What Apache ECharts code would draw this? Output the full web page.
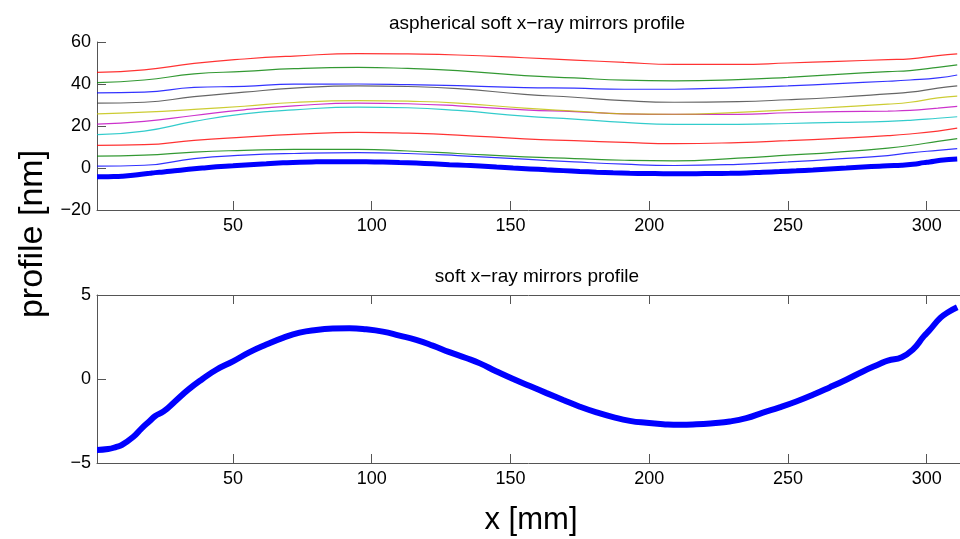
<!DOCTYPE html>
<html>
<head>
<meta charset="utf-8">
<script src="https://cdn.jsdelivr.net/npm/echarts@6/dist/echarts.min.js"></script>
<style>
html,body{margin:0;padding:0;background:#fff;}
#chart{width:960px;height:539px;}
</style>
</head>
<body>
<div id="chart"></div>
<script>
// ---- data ----
const xTicks = [50, 100, 150, 200, 250, 300];

// bottom profile (nm) vs x (mm)
const profX = [1,5,8,10,14,17,20,22,25,29,34,39,44,50,56,62,68,74,80,86,92,98,104,110,116,122,128,134,139,145,151,157,163,169,175,181,187,193,199,205,211,217,223,229,235,241,247,253,259,265,271,277,283,286,291,295,299,301,305,308,311];
const profV = [-4.22,-4.17,-4.04,-3.92,-3.45,-2.95,-2.5,-2.2,-1.93,-1.35,-0.62,0,0.55,1.05,1.6,2.05,2.45,2.76,2.92,3.0,3.02,2.96,2.82,2.58,2.33,1.99,1.6,1.25,0.93,0.45,0,-0.42,-0.84,-1.25,-1.65,-1.99,-2.27,-2.49,-2.61,-2.69,-2.73,-2.7,-2.63,-2.53,-2.33,-2.0,-1.69,-1.34,-0.94,-0.5,-0.04,0.45,0.89,1.1,1.3,1.75,2.55,2.9,3.65,4.0,4.27];

// aspherical profiles (nm), sampled at xThin (mm)
const xThin = [1,18,36,54,72,95,113,131,155,173,191,209,232,250,268,286,294,304,311];
const prof05 = [0.9,1.3,4.5,6.1,6.9,7.3,6.9,5.9,4.2,2.9,1.8,1.2,1.75,2.9,4.3,5.9,7.2,8.4,9.2];
const prof10 = [5.7,6.1,7.6,8.4,8.9,8.9,8.1,6.9,5.3,4.5,3.7,3.4,4.7,6.1,7.6,9.5,10.7,12.7,14.0];
const prof15 = [10.8,11.1,13.2,14.7,16.0,17.0,16.6,15.7,13.9,13.0,12.2,11.6,12.1,13.0,14.1,15.4,16.2,17.6,19.0];
const prof20 = [15.9,17.6,22.2,25.8,27.7,29.0,28.7,27.4,24.7,23.3,21.7,20.8,20.8,21.2,21.7,22.2,22.7,23.7,24.4];
const prof25 = [20.9,22.2,25.0,27.7,29.6,30.9,30.6,29.6,27.7,26.8,25.8,25.5,25.5,26.3,26.8,27.1,27.4,28.5,29.3];
const prof30 = [25.8,26.6,27.9,29.4,31.2,32.1,31.8,30.9,28.5,27.1,25.8,25.6,26.5,27.7,29.0,30.4,31.3,33.4,34.2];
const prof35 = [30.9,31.3,34.0,36.1,38.0,39.1,38.8,37.8,35.1,33.7,32.1,31.3,31.6,32.5,33.7,35.3,36.1,38.0,39.1];
const prof40 = [35.8,36.1,38.4,38.9,39.9,40.0,39.7,39.2,38.3,38.0,37.5,37.5,38.3,39.1,40.2,41.3,41.9,42.9,44.3];
const prof45 = [40.7,41.9,44.8,46.0,47.3,47.9,47.4,46.4,44.0,42.9,41.8,41.5,42.1,43.2,44.6,45.9,46.4,47.9,49.1];
const prof50 = [45.5,46.7,49.8,51.9,53.3,54.5,54.3,53.8,52.5,51.4,50.3,49.3,49.3,50.0,50.8,51.6,52.0,53.5,54.3];

const thinSets = [prof05, prof10, prof15, prof20, prof25, prof30, prof35, prof40, prof45, prof50];
const thinColors = ['#0000ff','#008000','#ff0000','#00bfbf','#bf00bf','#bfbf00','#404040','#0000ff','#008000','#ff0000'];

// ---- chart ----
const FONT = '"Liberation Sans", Arial, sans-serif';
const pairs = (xs, ys) => xs.map((x, i) => [x, ys[i]]);
const minusFmt = v => String(v).replace('-', '\u2212');
const axisLine = {show: true, onZero: false, lineStyle: {color: '#555', width: 1}};

const chart = echarts.init(document.getElementById('chart'));

const series = [];
thinSets.forEach((arr, i) => {
  series.push({
    type: 'line', xAxisIndex: 0, yAxisIndex: 0,
    data: pairs(xThin, arr), smooth: 0.5, showSymbol: false,
    lineStyle: {color: thinColors[i], width: 1.2, opacity: 0.8},
    silent: true, z: 2
  });
});
series.push({
  type: 'line', xAxisIndex: 0, yAxisIndex: 0,
  data: pairs(profX, profV), smooth: 0.5, showSymbol: false,
  lineStyle: {color: '#0000ff', width: 5}, silent: true, z: 3
});
series.push({
  type: 'line', xAxisIndex: 1, yAxisIndex: 1,
  data: pairs(profX, profV), smooth: 0.5, showSymbol: false,
  lineStyle: {color: '#0000ff', width: 6}, silent: true, z: 3
});

chart.setOption({
  animation: false,
  backgroundColor: '#fff',
  title: [
    {text: 'aspherical soft x\u2212ray mirrors profile', left: 532, top: 9, textAlign: 'center',
     textStyle: {fontFamily: FONT, fontSize: 19, fontWeight: 'normal', color: '#000'}},
    {text: 'soft x\u2212ray mirrors profile', left: 532, top: 262, textAlign: 'center',
     textStyle: {fontFamily: FONT, fontSize: 19, fontWeight: 'normal', color: '#000'}}
  ],
  grid: [
    {left: 97, top: 42, width: 866, height: 168},
    {left: 97, top: 295, width: 866, height: 168}
  ],
  xAxis: [
    {type: 'value', gridIndex: 0, min: 1, max: 312, position: 'bottom',
     axisLine: axisLine, splitLine: {show: false},
     axisTick: {show: true, inside: true, length: 9, customValues: xTicks, lineStyle: {color: '#555'}},
     axisLabel: {customValues: xTicks, fontFamily: FONT, fontSize: 18, color: '#000', margin: 7}},
    {type: 'value', gridIndex: 1, min: 1, max: 312, position: 'bottom',
     axisLine: axisLine, splitLine: {show: false},
     axisTick: {show: true, inside: true, length: 9, customValues: xTicks, lineStyle: {color: '#555'}},
     axisLabel: {customValues: xTicks, fontFamily: FONT, fontSize: 18, color: '#000', margin: 7}},
    {type: 'value', gridIndex: 1, min: 1, max: 312, position: 'top',
     axisLine: axisLine, splitLine: {show: false},
     axisTick: {show: true, inside: true, length: 9, customValues: xTicks, lineStyle: {color: '#555'}},
     axisLabel: {show: false}}
  ],
  yAxis: [
    {type: 'value', gridIndex: 0, min: -20, max: 60, interval: 20,
     axisLine: axisLine, splitLine: {show: false},
     axisTick: {show: true, inside: true, length: 9, lineStyle: {color: '#555'}},
     axisLabel: {formatter: minusFmt, fontFamily: FONT, fontSize: 18, color: '#000', margin: 6}},
    {type: 'value', gridIndex: 1, min: -5, max: 5, interval: 5,
     axisLine: axisLine, splitLine: {show: false},
     axisTick: {show: true, inside: true, length: 9, lineStyle: {color: '#555'}},
     axisLabel: {formatter: minusFmt, fontFamily: FONT, fontSize: 18, color: '#000', margin: 6}}
  ],
  graphic: [
    {type: 'text', x: 33, y: 234, rotation: Math.PI / 2,
     style: {text: 'profile [nm]', fontFamily: FONT, fontSize: 34, fill: '#000',
             textAlign: 'center', textVerticalAlign: 'middle'}},
    {type: 'text', x: 531, y: 520,
     style: {text: 'x [mm]', fontFamily: FONT, fontSize: 31, fill: '#000',
             textAlign: 'center', textVerticalAlign: 'middle'}}
  ],
  series: series
});
</script>
</body>
</html>
